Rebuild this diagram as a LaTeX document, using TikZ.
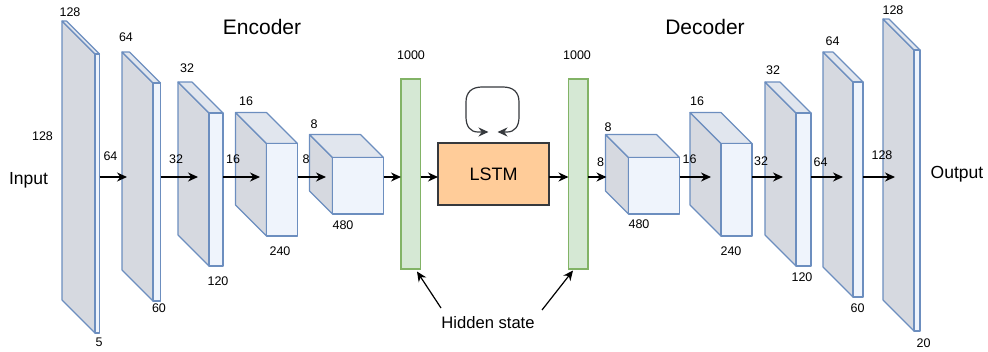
\documentclass[tikz,border=0pt]{standalone}
\usepackage{fontspec}
\setmainfont{Liberation Sans}
\usetikzlibrary{arrows.meta}
\definecolor{cstroke}{HTML}{6C8EBF}
\definecolor{cfront}{HTML}{EFF4FC}
\definecolor{ctop}{HTML}{E1E6EE}
\definecolor{cleft}{HTML}{D6D9E0}
\definecolor{gfill}{HTML}{D5E8D4}
\definecolor{gstroke}{HTML}{82B366}
\definecolor{lfill}{HTML}{FFCC99}
\definecolor{dark}{HTML}{36393D}
\tikzset{
  face/.style={draw=cstroke, line width=1.1pt, line join=round},
  frontbox/.style={face, fill=cfront, rectangle, inner sep=0pt, outer sep=0pt},
  greenbar/.style={draw=gstroke, fill=gfill, line width=1.1pt, rectangle, inner sep=0pt, outer sep=0pt, minimum width=19.5pt, minimum height=190pt, anchor=north west},
  lstmbox/.style={draw=dark, fill=lfill, line width=1.1pt, rectangle, inner sep=0pt, outer sep=0pt, minimum width=111pt, minimum height=62pt, anchor=north west, font=\fontsize{18}{20}\selectfont},
  tip/.style={Stealth[length=10pt,width=9pt]},
  arr/.style={-{Stealth[length=10pt,width=9pt]}, line width=1.2pt, black},
  num/.style={font=\fontsize{12.5}{14}\selectfont, inner sep=0pt},
  big/.style={font=\fontsize{17.5}{20}\selectfont, inner sep=0pt},
  title/.style={font=\fontsize{21}{24}\selectfont, inner sep=0pt},
}
% cube: name, x0, y0, x1, y1, depth
\newcommand\mycube[6]{%
  \filldraw[face, fill=cleft] (#2,#3) -- (#2+#6,#3+#6) -- (#2+#6,#5) -- (#2,#5-#6) -- cycle;
  \filldraw[face, fill=ctop] (#2,#3) -- (#4-#6,#3) -- (#4,#3+#6) -- (#2+#6,#3+#6) -- cycle;
  \node[frontbox, anchor=north west, minimum width={(#4-#2-#6)*1pt}, minimum height={(#5-#3-#6)*1pt}] (#1) at (#2+#6,#3+#6) {};
}
\begin{document}
\begin{tikzpicture}[x=1pt, y=-1pt]
\useasboundingbox (0,0) rectangle (988,351);
% encoder cubes
\mycube{e1}{62}{21}{99.5}{333}{33}
\mycube{e2}{122}{52}{160.5}{301}{31}
\mycube{e3}{178}{82}{223}{266}{31}
\mycube{e4}{235.5}{112.5}{297.5}{236}{31}
\mycube{e5}{309.5}{134.5}{383.5}{214}{23}
% decoder cubes
\mycube{d1}{605.5}{134.5}{679.5}{214}{23}
\mycube{d2}{690}{112.5}{752}{236}{31}
\mycube{d3}{765}{82}{811}{266}{31}
\mycube{d4}{823}{52}{863}{297}{30}
\mycube{d5}{883}{19}{920}{331}{31}
% hidden bars and LSTM
\node[greenbar] (g1) at (401,79) {};
\node[greenbar] (g2) at (568.5,79) {};
\node[lstmbox] (lstm) at (438,143) {LSTM};
% arrow targets
\coordinate (t2) at (127,177);
\coordinate (t3) at (198,177);
\coordinate (t4) at (260,177);
\coordinate (t5) at (326,177);
\coordinate (td1) at (606.5,177);
\coordinate (td2) at (711,177);
\coordinate (td3) at (783,177);
\coordinate (td4) at (843,177);
\coordinate (td5) at (895,177);
% arrows
\draw[arr] (e1.east |- t2) -- (t2);
\draw[arr] (e2.east |- t3) -- (t3);
\draw[arr] (e3.east |- t4) -- (t4);
\draw[arr] (e4.east |- t5) -- (t5);
\draw[arr] (e5.east |- t5) -- (g1.west |- t5);
\draw[arr] (g1.east |- t5) -- (lstm.west |- t5);
\draw[arr] (lstm.east |- t5) -- (g2.west |- t5);
\draw[arr] (g2.east |- td1) -- (td1);
\draw[arr] (d1.east |- td2) -- (td2);
\draw[arr] (d2.east |- td3) -- (td3);
\draw[arr] (d3.east |- td4) -- (td4);
\draw[arr] (d4.east |- td5) -- (td5);
% LSTM self loop
\coordinate (lp1) at (488.5,132);
\coordinate (lp2) at (497.5,132);
\draw[{Stealth[length=10pt,width=9pt]}-{Stealth[length=10pt,width=9pt]}, line width=1.2pt, dark, line join=round]
  (lp1) -- (478,132) .. controls (470,132) and (466,126) .. (466,117) -- (466,102)
  .. controls (466,92) and (472,87) .. (482,87) -- (503,87)
  .. controls (513,87) and (519,92) .. (519,102) -- (519,117)
  .. controls (519,126) and (515,132) .. (507,132) -- (lp2);
% hidden state
\node[big, font=\fontsize{16.6}{19}\selectfont] (hs) at (488,323) {Hidden state};
\coordinate (hs1) at (441,308);
\coordinate (hs2) at (542,310);
\coordinate (h1tip) at (417,271.5);
\coordinate (h2tip) at (573,270.5);
\draw[arr] (hs1) -- (h1tip);
\draw[arr] (hs2) -- (h2tip);
% titles
\node[title] (enc) at (262,27) {Encoder};
\node[title] (dec) at (705,27) {Decoder};
\node[big] (inp) at (28.5,180) {Input};
\node[big] (outp) at (957,174) {Output};
% encoder labels
\node[num] (l1) at (70,12) {128};
\node[num] (l2) at (42.5,136) {128};
\node[num] (l3) at (99,342) {5};
\node[num] (l4) at (110.5,156) {64};
\node[num] (l5) at (126,37.5) {64};
\node[num] (l6) at (159,308.5) {60};
\node[num] (l7) at (187,68.5) {32};
\node[num] (l8) at (176,159.5) {32};
\node[num] (l9) at (218,281.5) {120};
\node[num] (l10) at (233,159.5) {16};
\node[num] (l11) at (246,101.5) {16};
\node[num] (l12) at (280,251.5) {240};
\node[num] (l13) at (306,159) {8};
\node[num] (l14) at (314,124) {8};
\node[num] (l15) at (343,225) {480};
\node[num] (l16) at (411,55) {1000};
\node[num] (l17) at (577,55) {1000};
% decoder labels
\node[num] (m1) at (608,127.5) {8};
\node[num] (m2) at (600.5,162) {8};
\node[num] (m3) at (639,224) {480};
\node[num] (m4) at (689.5,159.5) {16};
\node[num] (m5) at (697,101) {16};
\node[num] (m6) at (731,251) {240};
\node[num] (m7) at (761,161.5) {32};
\node[num] (m8) at (773,70) {32};
\node[num] (m9) at (802,277.5) {120};
\node[num] (m10) at (820.5,162.5) {64};
\node[num] (m11) at (832.5,41.5) {64};
\node[num] (m12) at (857.5,308.5) {60};
\node[num] (m13) at (882,155.5) {128};
\node[num] (m14) at (893,10) {128};
\node[num] (m15) at (923.5,343) {20};
\end{tikzpicture}
\end{document}
